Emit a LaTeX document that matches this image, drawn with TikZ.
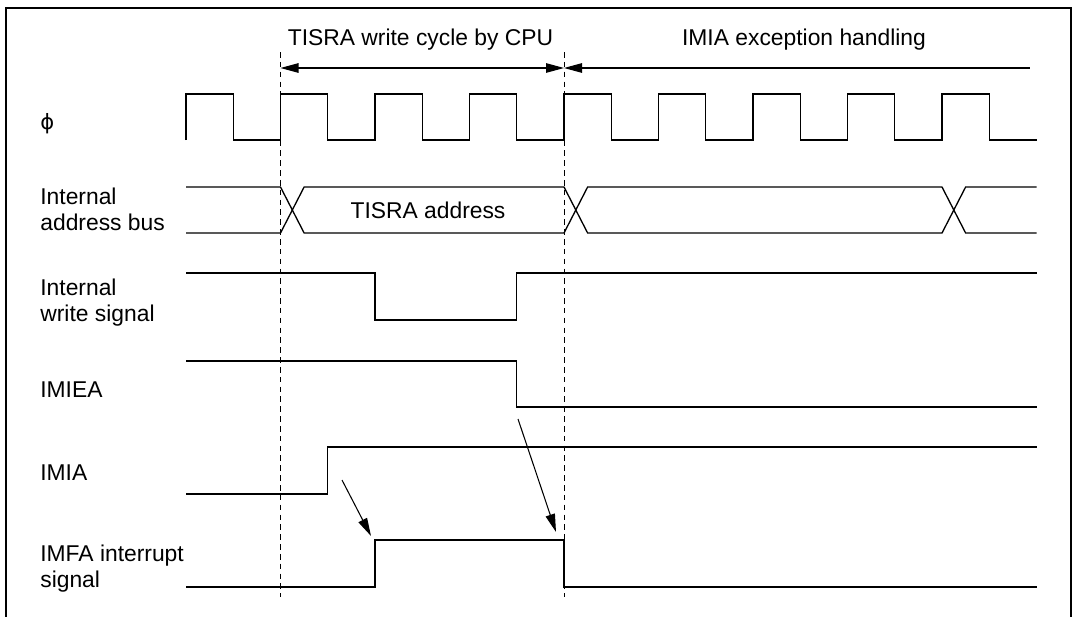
\documentclass[tikz,border=0pt]{standalone}
\usepackage{fontspec}
\setmainfont{Liberation Sans}
\newfontfamily\symfont{DejaVu Sans}
\usetikzlibrary{arrows.meta}

\begin{document}
\begin{tikzpicture}[font=\fontsize{13}{14.8}\selectfont,
  sig/.style={line width=0.75pt},
  guide/.style={line width=0.55pt, dash pattern=on 3.2pt off 2.4pt},
  span/.style={line width=0.6pt},
  head/.tip={Triangle[length=0.36cm,width=0.19cm]},
  lbl/.style={anchor=west, align=left, inner sep=0pt}]
  \useasboundingbox (0,0) rectangle (21.5,-12.32);
  % frame, open at the bottom
  \draw[line width=1.3pt] (0.12,-12.5) -- (0.12,-0.16) -- (21.42,-0.16) -- (21.42,-12.5);

  % phase labels and spans
  \node[anchor=base] (cyc) at (8.41,-0.90) {TISRA write cycle by CPU};
  \node[anchor=base] (exc) at (16.08,-0.90) {IMIA exception handling};
  \coordinate (cs) at (5.61,-1.36);
  \coordinate (ce) at (11.28,-1.36);
  \coordinate (ee) at (20.60,-1.36);
  \draw[span, head-head] (cs) -- (ce);
  \draw[span, head-] (ce) -- (ee);
  \draw[guide] (5.61,-1.04) -- (5.61,-11.94);
  \draw[guide] (11.28,-1.04) -- (11.28,-11.94);

  % signal names
  \node[lbl] (phi) at (0.80,-2.48) {\symfont\fontsize{12}{14}\selectfont ϕ};
  \node[lbl] (addr) at (0.80,-4.18) {Internal\\address bus};
  \node[lbl] (wr) at (0.80,-6.05) {Internal\\write signal};
  \node[lbl, anchor=base west] (imiea) at (0.80,-7.94) {IMIEA};
  \node[lbl, anchor=base west] (imia) at (0.80,-9.60) {IMIA};
  \node[lbl] (imfa) at (0.80,-11.38) {IMFA interrupt\\signal};

  % clock
  \draw[sig] (3.72,-2.80) -- (3.72,-1.88) -- (4.665,-1.88) -- (4.665,-2.80)
    -- (5.61,-2.80) -- (5.61,-1.88) -- (6.555,-1.88) -- (6.555,-2.80)
    -- (7.50,-2.80) -- (7.50,-1.88) -- (8.445,-1.88) -- (8.445,-2.80)
    -- (9.39,-2.80) -- (9.39,-1.88) -- (10.335,-1.88) -- (10.335,-2.80)
    -- (11.28,-2.80) -- (11.28,-1.88) -- (12.225,-1.88) -- (12.225,-2.80)
    -- (13.17,-2.80) -- (13.17,-1.88) -- (14.115,-1.88) -- (14.115,-2.80)
    -- (15.06,-2.80) -- (15.06,-1.88) -- (16.005,-1.88) -- (16.005,-2.80)
    -- (16.95,-2.80) -- (16.95,-1.88) -- (17.895,-1.88) -- (17.895,-2.80)
    -- (18.84,-2.80) -- (18.84,-1.88) -- (19.785,-1.88) -- (19.785,-2.80)
    -- (20.73,-2.80);

  % address bus
  \draw[sig] (3.72,-3.74) -- (5.61,-3.74) -- (6.0825,-4.66) -- (11.28,-4.66)
    -- (11.7525,-3.74) -- (18.84,-3.74) -- (19.3125,-4.66) -- (20.73,-4.66);
  \draw[sig] (3.72,-4.66) -- (5.61,-4.66) -- (6.0825,-3.74) -- (11.28,-3.74)
    -- (11.7525,-4.66) -- (18.84,-4.66) -- (19.3125,-3.74) -- (20.73,-3.74);
  \node (addrtxt) at (8.56,-4.20) {TISRA address};

  % write, IMIEA, IMIA, IMFA
  \draw[sig] (3.72,-5.46) -- (7.50,-5.46) -- (7.50,-6.40) -- (10.335,-6.40)
    -- (10.335,-5.46) -- (20.73,-5.46);
  \draw[sig] (3.72,-7.22) -- (10.335,-7.22) -- (10.335,-8.14) -- (20.73,-8.14);
  \draw[sig] (3.72,-9.88) -- (6.555,-9.88) -- (6.555,-8.94) -- (20.73,-8.94);
  \draw[sig] (3.72,-11.74) -- (7.50,-11.74) -- (7.50,-10.80) -- (11.28,-10.80)
    -- (11.28,-11.74) -- (20.73,-11.74);

  % cause arrows
  \coordinate (up) at (6.84,-9.60);
  \coordinate (rise) at (7.42,-10.72);
  \coordinate (dn) at (10.36,-8.38);
  \coordinate (fall) at (11.12,-10.64);
  \draw[span, -head] (up) -- (rise);
  \draw[span, -head] (dn) -- (fall);
\end{tikzpicture}
\end{document}
